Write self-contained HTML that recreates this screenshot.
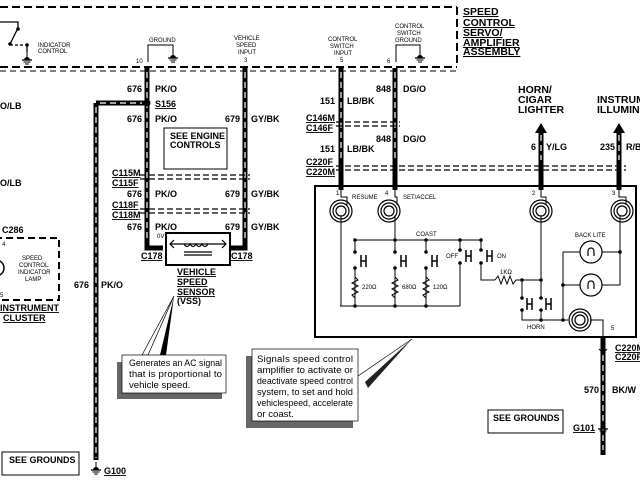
<!DOCTYPE html>
<html><head><meta charset="utf-8"><style>
html,body{margin:0;padding:0;background:#fff;width:640px;height:480px;overflow:hidden}
svg text{font-family:"Liberation Sans",sans-serif;fill:#000}
.b{font-weight:bold;font-size:9px}
.s{font-size:6px}
.t{font-weight:bold;font-size:10.5px}
.u{text-decoration:underline}
.c{font-size:9.6px}
</style></head><body>
<svg width="640" height="480" viewBox="0 0 640 480" xmlns="http://www.w3.org/2000/svg">
<defs>
<g id="gnd"><line x1="0" y1="-6" x2="0" y2="0" stroke="#000" stroke-width="1"/><path d="M-3,2 a3,3 0 0 1 6,0 z" fill="#000"/><line x1="-5" y1="2" x2="5" y2="2" stroke="#000" stroke-width="1.3"/><line x1="-3.5" y1="4" x2="3.5" y2="4" stroke="#000"/><line x1="-2" y1="6" x2="2" y2="6" stroke="#000"/></g>
<g id="coil" fill="none" stroke="#000" stroke-width="1.2"><circle r="11"/><circle r="8"/><circle r="5"/></g>
</defs>

<g stroke="#000" stroke-width="2" stroke-dasharray="8,4" fill="none">
<line x1="0" y1="7" x2="457" y2="7"/>
<line x1="457" y1="7" x2="457" y2="67"/>
<line x1="0" y1="67" x2="457" y2="67"/>
</g>
<line x1="0" y1="71" x2="457" y2="71" stroke="#000" stroke-width="1" stroke-dasharray="6,4"/>
<text class="t u" x="463" y="15">SPEED</text>
<text class="t u" x="463" y="26">CONTROL</text>
<text class="t u" x="463" y="36">SERVO/</text>
<text class="t u" x="463" y="46">AMPLIFIER</text>
<text class="t u" x="463" y="55">ASSEMBLY</text>

<g stroke="#000" stroke-width="1.3" fill="none">
<polyline points="0,22 18,22 18,28 10,44"/>
<line x1="10" y1="45" x2="24" y2="45" stroke-dasharray="3,2"/>
<line x1="27" y1="45" x2="27" y2="52"/>
</g>
<circle cx="18" cy="29" r="1.8"/><circle cx="10" cy="44" r="1.8"/><circle cx="27" cy="45" r="1.8"/>
<use href="#gnd" x="27" y="58"/>
<text class="s" x="38" y="47">INDICATOR</text>
<text class="s" x="38" y="53">CONTROL</text>

<text class="s" x="149" y="42">GROUND</text>
<polyline points="148,62 148,45 173,45 173,50" fill="none" stroke="#000"/>
<use href="#gnd" x="173" y="56"/>
<text class="s" x="136" y="63">10</text>
<text class="s" x="234" y="40">VEHICLE</text>
<text class="s" x="236" y="47">SPEED</text>
<text class="s" x="238" y="54">INPUT</text>
<text class="s" x="244" y="62">3</text>
<text class="s" x="328" y="41">CONTROL</text>
<text class="s" x="330" y="48">SWITCH</text>
<text class="s" x="334" y="55">INPUT</text>
<text class="s" x="340" y="62">5</text>
<text class="s" x="395" y="28">CONTROL</text>
<text class="s" x="397" y="35">SWITCH</text>
<text class="s" x="395" y="42">GROUND</text>
<polyline points="396,62 396,45 420,45 420,50" fill="none" stroke="#000"/>
<use href="#gnd" x="420" y="56"/>
<text class="s" x="387" y="63">6</text>

<g stroke="#000" stroke-width="5" fill="none">
<line x1="147" y1="68" x2="147" y2="244"/>
<line x1="245" y1="68" x2="245" y2="244"/>
<line x1="341" y1="68" x2="341" y2="190"/>
<line x1="395" y1="68" x2="395" y2="190"/>
<line x1="541" y1="132" x2="541" y2="190"/>
<line x1="619" y1="132" x2="619" y2="190"/>
<line x1="603" y1="337" x2="603" y2="455"/>
<line x1="96" y1="103" x2="96" y2="460"/>
<line x1="96" y1="103" x2="145" y2="103"/>
<polyline points="147,244 147,248 163,248"/>
<polyline points="245,244 245,248 231,248"/>
</g>
<g stroke="#fff" stroke-width="1.2" fill="none" stroke-dasharray="6,4">
<line x1="147" y1="72" x2="147" y2="240"/>
<line x1="245" y1="72" x2="245" y2="240"/>
<line x1="341" y1="72" x2="341" y2="160"/>
<line x1="395" y1="72" x2="395" y2="160"/>
<line x1="541" y1="135" x2="541" y2="160"/>
<line x1="619" y1="135" x2="619" y2="160"/>
<line x1="603" y1="355" x2="603" y2="450"/>
<line x1="96" y1="107" x2="96" y2="458"/>
<line x1="100" y1="103" x2="142" y2="103"/>
</g>
<polygon points="541,123 535,133 547,133"/>
<polygon points="619,123 613,133 625,133"/>
<circle cx="147" cy="103" r="3.5"/>

<g stroke="#000" stroke-width="1.3" stroke-dasharray="6,3" fill="none">
<line x1="140" y1="175" x2="250" y2="175"/><line x1="140" y1="179" x2="250" y2="179"/>
<line x1="140" y1="209" x2="250" y2="209"/><line x1="140" y1="213" x2="250" y2="213"/>
<line x1="336" y1="122" x2="400" y2="122"/><line x1="336" y1="126" x2="400" y2="126"/>
<line x1="336" y1="166" x2="626" y2="166"/><line x1="336" y1="170" x2="626" y2="170"/>
</g>

<text class="b" x="127" y="92">676</text><text class="b" x="155" y="92">PK/O</text>
<text class="b u" x="155" y="107">S156</text>
<text class="b" x="127" y="122">676</text><text class="b" x="155" y="122">PK/O</text>
<text class="b" x="225" y="122">679</text><text class="b" x="251" y="122">GY/BK</text>
<rect x="164" y="128" width="63" height="41" fill="none" stroke="#000"/>
<text class="b" x="170" y="139">SEE ENGINE</text>
<text class="b" x="170" y="148">CONTROLS</text>
<text class="b u" x="112" y="176">C115M</text>
<text class="b u" x="112" y="186">C115F</text>
<text class="b" x="127" y="197">676</text><text class="b" x="155" y="197">PK/O</text>
<text class="b" x="225" y="197">679</text><text class="b" x="251" y="197">GY/BK</text>
<text class="b u" x="112" y="208">C118F</text>
<text class="b u" x="112" y="218">C118M</text>
<text class="b" x="127" y="230">676</text><text class="b" x="155" y="230">PK/O</text>
<text class="b" x="225" y="230">679</text><text class="b" x="251" y="230">GY/BK</text>
<text class="s" x="157" y="238">0V</text>

<rect x="166" y="233" width="64" height="32" fill="none" stroke="#000" stroke-width="2"/>
<g stroke="#000" fill="none" stroke-width="1.2">
<line x1="170" y1="244" x2="226" y2="244"/>
<polyline points="174,240 170,244 174,248"/><polyline points="222,240 226,244 222,248"/>
<path d="M184,244 q3,5 6,0 q3,5 6,0 q3,5 6,0 q3,5 6,0"/>
<line x1="184" y1="252" x2="212" y2="252"/><line x1="184" y1="255" x2="212" y2="255"/>
</g>
<text class="b u" x="141" y="259">C178</text>
<text class="b u" x="231" y="259">C178</text>
<text class="b u" x="177" y="275">VEHICLE</text>
<text class="b u" x="177" y="285">SPEED</text>
<text class="b u" x="177" y="295">SENSOR</text>
<text class="b" x="177" y="304">(VSS)</text>

<text class="b" x="0" y="109">O/LB</text>
<text class="b" x="0" y="186">O/LB</text>
<text class="b" x="2" y="233">C286</text>
<rect x="-5" y="238" width="64" height="62" fill="none" stroke="#000" stroke-width="2" stroke-dasharray="7,4"/>
<circle cx="-4" cy="268" r="8" fill="none" stroke="#000" stroke-width="1.5"/>
<text class="s" x="2" y="246">4</text><text class="s" x="0" y="297">5</text>
<text class="s" x="22" y="260">SPEED</text>
<text class="s" x="19" y="267">CONTROL</text>
<text class="s" x="18" y="274">INDICATOR</text>
<text class="s" x="25" y="281">LAMP</text>
<text class="b u" x="0" y="311">INSTRUMENT</text>
<text class="b u" x="3" y="321">CLUSTER</text>
<text class="b" x="74" y="288">676</text><text class="b" x="101" y="288">PK/O</text>
<rect x="2" y="452" width="77" height="23" fill="none" stroke="#000"/>
<text class="b" x="9" y="463">SEE GROUNDS</text>
<use href="#gnd" x="96" y="468"/>
<text class="b u" x="104" y="474">G100</text>

<polygon points="174,296 142,355 148,355" fill="none" stroke="#000" stroke-width="0.7"/>
<polygon points="174,296 160,355 166,355" fill="#000"/>
<rect x="117" y="362" width="105" height="37" fill="#666"/>
<rect x="122" y="355" width="104" height="38" fill="#fff" stroke="#000" stroke-width="0.7"/>
<text class="c" x="129" y="366" textLength="93" lengthAdjust="spacingAndGlyphs">Generates an AC signal</text>
<text class="c" x="129" y="377" textLength="93" lengthAdjust="spacing">that is proportional to</text>
<text class="c" x="129" y="388">vehicle speed.</text>

<polygon points="412,339 365,382 368,388" fill="#222"/>
<line x1="412" y1="339" x2="358" y2="376" stroke="#000" stroke-width="0.7"/>
<rect x="246" y="356" width="107" height="72" fill="#666"/>
<rect x="252" y="349" width="106" height="72" fill="#fff" stroke="#000" stroke-width="0.7"/>
<text class="c" x="257" y="362" textLength="96" lengthAdjust="spacing">Signals speed control</text>
<text class="c" x="257" y="373" textLength="96" lengthAdjust="spacingAndGlyphs">amplifier to activate or</text>
<text class="c" x="257" y="384" textLength="96" lengthAdjust="spacingAndGlyphs">deactivate speed control</text>
<text class="c" x="257" y="395" textLength="96" lengthAdjust="spacingAndGlyphs">system, to set and hold</text>
<text class="c" x="257" y="406" textLength="96" lengthAdjust="spacingAndGlyphs">vehiclespeed, accelerate</text>
<text class="c" x="257" y="417">or coast.</text>

<text class="b" x="376" y="92">848</text><text class="b" x="403" y="92">DG/O</text>
<text class="b" x="320" y="104">151</text><text class="b" x="347" y="104">LB/BK</text>
<text class="b u" x="306" y="121">C146M</text>
<text class="b u" x="306" y="131">C146F</text>
<text class="b" x="376" y="142">848</text><text class="b" x="403" y="142">DG/O</text>
<text class="b" x="320" y="152">151</text><text class="b" x="347" y="152">LB/BK</text>
<text class="b u" x="306" y="165">C220F</text>
<text class="b u" x="306" y="175">C220M</text>
<text class="t" x="518" y="93">HORN/</text>
<text class="t" x="518" y="103">CIGAR</text>
<text class="t" x="518" y="113">LIGHTER</text>
<text class="t" x="597" y="103">INSTRUMENT</text>
<text class="t" x="597" y="113">ILLUMINATION</text>
<text class="b" x="531" y="150">6</text><text class="b" x="546" y="150">Y/LG</text>
<text class="b" x="600" y="150">235</text><text class="b" x="626" y="150">R/B</text>

<rect x="315" y="186" width="321" height="151" fill="none" stroke="#000" stroke-width="2"/>
<g stroke="#000" stroke-width="1" fill="none">
<polyline points="341,186 341,197 347,197 347,205"/>
<polyline points="395,186 395,197 397,197 397,205"/>
<polyline points="541,186 541,197 546,197 546,205"/>
<polyline points="619,186 619,197 626,197 626,205"/>
<line x1="341" y1="216" x2="341" y2="306"/>
<line x1="395" y1="216" x2="395" y2="240"/>
<line x1="355" y1="240" x2="481" y2="240"/>
<line x1="340" y1="306" x2="460" y2="306"/>
<line x1="355" y1="240" x2="355" y2="252"/><line x1="355" y1="268" x2="355" y2="306"/>
<line x1="395" y1="240" x2="395" y2="252"/><line x1="395" y1="268" x2="395" y2="306"/>
<line x1="426" y1="240" x2="426" y2="252"/><line x1="426" y1="268" x2="426" y2="306"/>
<line x1="460" y1="240" x2="460" y2="250"/><line x1="460" y1="263" x2="460" y2="306"/>
<line x1="481" y1="240" x2="481" y2="250"/><polyline points="481,263 481,280 495,280"/>
<polyline points="495,280 498,276 501,284 504,276 507,284 510,276 513,284 516,280 541,280"/>
<line x1="541" y1="216" x2="541" y2="298"/>
<line x1="522" y1="280" x2="522" y2="298"/>
<polyline points="522,310 522,320 563,320 568,320"/>
<line x1="541" y1="310" x2="541" y2="320"/>
<line x1="563" y1="252" x2="563" y2="320"/>
<line x1="563" y1="252" x2="580" y2="252"/><line x1="602" y1="252" x2="620" y2="252"/>
<line x1="563" y1="285" x2="580" y2="285"/><line x1="602" y1="285" x2="620" y2="285"/>
<line x1="620" y1="216" x2="620" y2="285"/>
<polyline points="590,320 603,320 603,337"/>
</g>
<g fill="none" stroke="#000" stroke-width="1">
<path d="M355,277 l3,3 -6,3 6,3 -6,3 6,3 -6,3 3,3"/>
<path d="M395,277 l3,3 -6,3 6,3 -6,3 6,3 -6,3 3,3"/>
<path d="M426,277 l3,3 -6,3 6,3 -6,3 6,3 -6,3 3,3"/>
</g>
<g stroke="#000" stroke-width="1.5" fill="none">
<path d="M361,255 v12 M361,261 h5 M366,255 v12"/>
<path d="M401,255 v12 M401,261 h5 M406,255 v12"/>
<path d="M432,255 v12 M432,261 h5 M437,255 v12"/>
<path d="M466,250 v12 M466,256 h5 M471,250 v12"/>
<path d="M487,250 v12 M487,256 h5 M492,250 v12"/>
<path d="M527,298 v12 M527,304 h5 M532,298 v12"/>
<path d="M546,298 v12 M546,304 h5 M551,298 v12"/>
</g>
<g>
<circle cx="355" cy="240" r="1.8"/><circle cx="395" cy="240" r="1.8"/><circle cx="426" cy="240" r="1.8"/><circle cx="460" cy="240" r="1.8"/><circle cx="481" cy="240" r="1.8"/>
<circle cx="355" cy="252" r="1.8"/><circle cx="355" cy="268" r="1.8"/><circle cx="395" cy="252" r="1.8"/><circle cx="395" cy="268" r="1.8"/><circle cx="426" cy="252" r="1.8"/><circle cx="426" cy="268" r="1.8"/>
<circle cx="460" cy="250" r="1.8"/><circle cx="460" cy="263" r="1.8"/><circle cx="481" cy="250" r="1.8"/><circle cx="481" cy="263" r="1.8"/>
<circle cx="355" cy="306" r="1.8"/><circle cx="395" cy="306" r="1.8"/><circle cx="426" cy="306" r="1.8"/>
<circle cx="522" cy="280" r="1.8"/><circle cx="541" cy="280" r="1.8"/>
<circle cx="522" cy="298" r="1.8"/><circle cx="541" cy="298" r="1.8"/><circle cx="522" cy="310" r="1.8"/><circle cx="541" cy="310" r="1.8"/>
<circle cx="541" cy="320" r="1.8"/><circle cx="563" cy="320" r="1.8"/><circle cx="563" cy="285" r="1.8"/><circle cx="620" cy="252" r="1.8"/>
</g>
<use href="#coil" x="341" y="211"/>
<use href="#coil" x="389" y="211"/>
<use href="#coil" x="541" y="211"/>
<use href="#coil" x="622" y="211"/>
<use href="#coil" x="580" y="320"/>
<g fill="none" stroke="#000" stroke-width="1.2">
<circle cx="591" cy="252" r="11"/><circle cx="591" cy="285" r="11"/>
<path d="M588,256 v-5 a3,3 0 0 1 6,0 v5"/><path d="M588,289 v-5 a3,3 0 0 1 6,0 v5"/>
</g>
<text class="s" x="336" y="195">1</text>
<text class="s" x="385" y="195">4</text>
<text class="s" x="532" y="195">2</text>
<text class="s" x="612" y="195">3</text>
<text class="s" x="352" y="199">RESUME</text>
<text class="s" x="403" y="199">SET/ACCEL</text>
<text class="s" x="416" y="236">COAST</text>
<text class="s" x="446" y="258">OFF</text>
<text class="s" x="497" y="258">ON</text>
<text class="s" x="500" y="274">1KΩ</text>
<text class="s" x="362" y="289">220Ω</text>
<text class="s" x="402" y="289">680Ω</text>
<text class="s" x="433" y="289">120Ω</text>
<text class="s" x="575" y="237">BACK LITE</text>
<text class="s" x="527" y="329">HORN</text>
<text class="s" x="611" y="330">5</text>

<text class="b u" x="615" y="351">C220M</text>
<text class="b u" x="615" y="360">C220F</text>
<polyline points="599,349 603,353 607,349" fill="none" stroke="#000"/>
<text class="b" x="584" y="393">570</text><text class="b" x="612" y="393">BK/W</text>
<rect x="488" y="410" width="75" height="23" fill="none" stroke="#000"/>
<text class="b" x="493" y="421">SEE GROUNDS</text>
<text class="b u" x="573" y="431">G101</text>
<use href="#gnd" x="603" y="427"/>
</svg>
</body></html>
